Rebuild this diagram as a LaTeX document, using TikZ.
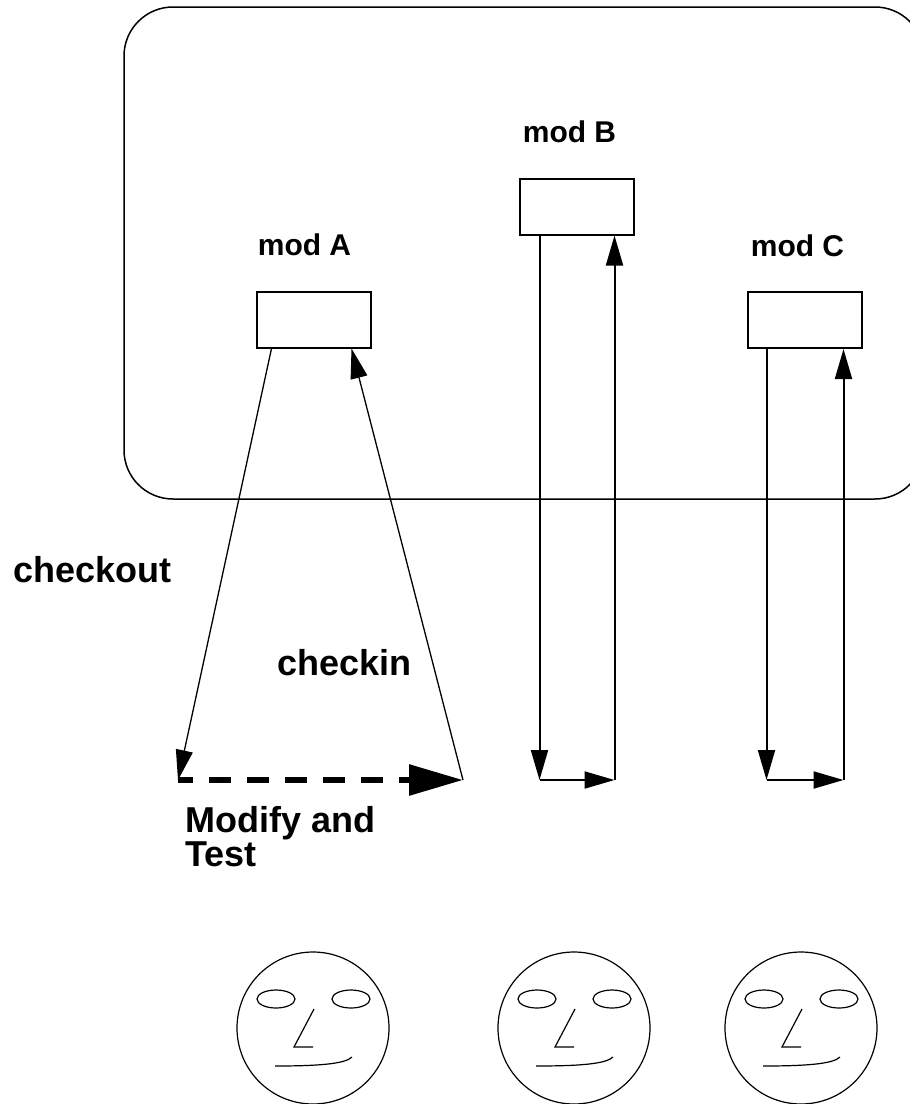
\documentclass[tikz,border=0pt]{standalone}
\usepackage{fontspec}
\setmainfont{Liberation Sans}
\usetikzlibrary{positioning}
\usetikzlibrary{arrows.meta}
\tikzset{
mod_box/.style={rectangle, draw, line width=1pt, minimum width=57pt, minimum height=28pt, inner sep=0},
mod_label/.style={font=\bfseries\fontsize{15}{17}\selectfont, inner sep=0},
step_label/.style={font=\bfseries\fontsize{18}{16}\selectfont, inner sep=0, align=left},
thin_arrow/.style={line width=0.65pt, -{Triangle[length=15pt, width=8.5pt]}},
loop_arrow/.style={line width=1pt, -{Triangle[length=15pt, width=8.5pt]}},
edit_arrow/.style={line width=3pt, dash pattern=on 11pt off 8pt, dash phase=3.5pt, -{Triangle[length=27pt, width=15pt]}},
face_line/.style={line width=0.6pt}
}

\begin{document}
\begin{tikzpicture}[x=0.5pt, y=-0.5pt]
    \useasboundingbox (0,0) rectangle (910,1104);
    \begin{scope}
    \clip (0,0) rectangle (910,1104);
    % repository frame
    \draw[line width=0.75pt, rounded corners=24.5pt] (124,7) rectangle (924,499);

    \node[mod_box] (mod_A) at (313.5,319.5) {};
    \node[mod_box] (mod_B) at (576.5,206.5) {};
    \node[mod_box] (mod_C) at (804.5,320) {};
    \node[mod_label] (label_A) [above=17pt of mod_A, xshift=-4.5pt] {mod A};
    \node[mod_label] (label_B) [above=17pt of mod_B, xshift=-3.5pt] {mod B};
    \node[mod_label] (label_C) [above=17pt of mod_C, xshift=-3.5pt] {mod C};

    % checkout / modify / checkin cycle
    \coordinate (edit_start) at (178,780);
    \coordinate (edit_end) at (463,780);
    \draw[thin_arrow] ([xshift=8pt]mod_A.south west) -- (edit_start);
    \draw[edit_arrow] (edit_start) -- (edit_end);
    \draw[thin_arrow] (edit_end) -- ([xshift=-10pt]mod_A.south east);
    \node[step_label, anchor=base west] (checkout) at (13,582) {checkout};
    \node[step_label, anchor=base west] (checkin) at (277,675) {checkin};
    \node[step_label, anchor=north west] (modify) at (185,806) {Modify and\\Test};

    \foreach \m/\dl/\dr in {B/10.5pt/-10pt, C/10pt/-9.5pt} {
        \coordinate (out_\m) at ([xshift=\dl]mod_\m.south west);
        \coordinate (in_\m) at ([xshift=\dr]mod_\m.south east);
        \draw[loop_arrow] (out_\m) -- (out_\m |- edit_end);
        \draw[loop_arrow] (out_\m |- edit_end) -- (in_\m |- edit_end);
        \draw[loop_arrow] (in_\m |- edit_end) -- (in_\m);
    }

    % developers
    \foreach \cx in {313,574,801} {
        \begin{scope}[shift={(\cx,1028)}, face_line]
            \draw (0,0) circle[radius=76];
            \draw (-37,-29) ellipse[x radius=19, y radius=9];
            \draw (38,-29) ellipse[x radius=19, y radius=9];
            \draw (1,-19) -- (-19,19) -- (0,19);
            \draw (-38,38) .. controls (5,38) and (32,36) .. (39,29);
        \end{scope}
    }
    \end{scope}
\end{tikzpicture}
\end{document}
